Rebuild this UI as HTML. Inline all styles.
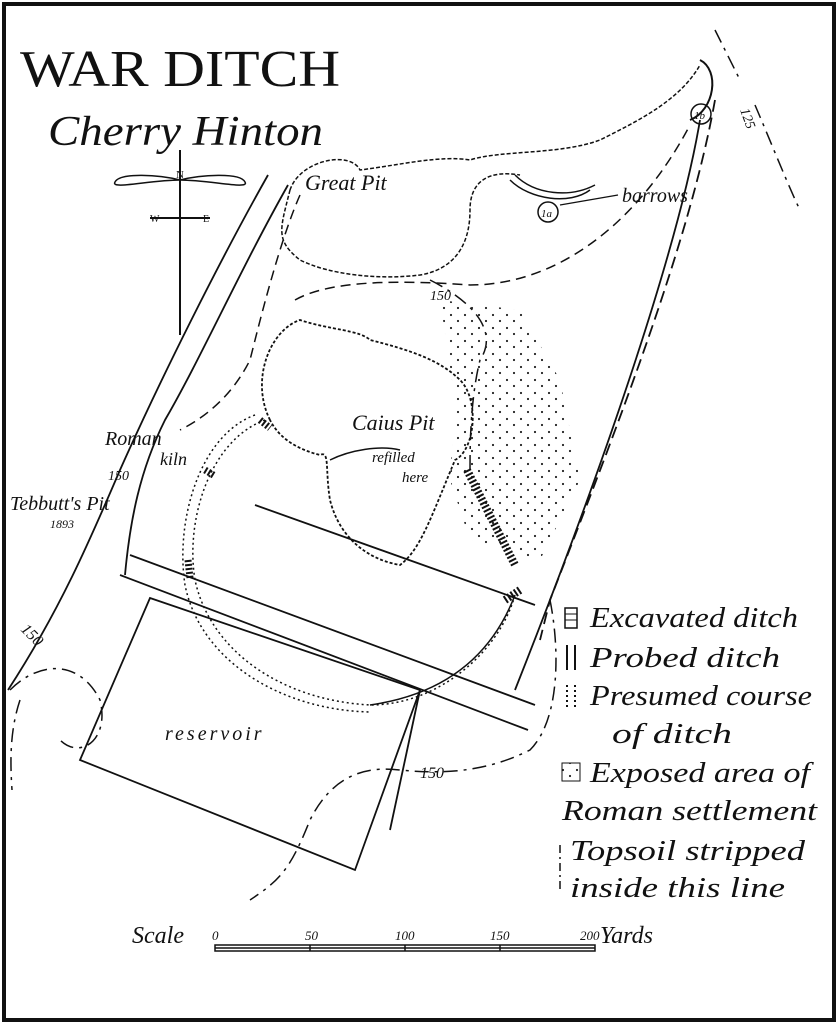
<!DOCTYPE html>
<html><head><meta charset="utf-8"><style>
html,body{margin:0;padding:0;background:#fff}
svg{display:block}
text{font-family:"Liberation Serif",serif;fill:#111}
.it{font-style:italic}
</style></head><body>
<svg width="838" height="1024" viewBox="0 0 838 1024" xmlns="http://www.w3.org/2000/svg">
<defs>
<pattern id="dots" width="14" height="13" patternUnits="userSpaceOnUse">
<circle cx="3" cy="3" r="1.1" fill="#222"/><circle cx="10" cy="9" r="1.1" fill="#222"/>
</pattern>
</defs>
<rect x="4" y="4" width="830" height="1016" fill="none" stroke="#111" stroke-width="4"/>
<text x="20" y="86" font-size="52" textLength="320" lengthAdjust="spacingAndGlyphs">WAR DITCH</text>
<text x="48" y="145" font-size="42" class="it" textLength="275" lengthAdjust="spacingAndGlyphs">Cherry Hinton</text>
<!-- compass -->
<path d="M180 150 L180 335 M150 218 L210 218" stroke="#111" stroke-width="2" fill="none"/>
<path d="M180 180 C150 180 110 190 115 182 C120 172 160 175 180 180 C200 175 240 172 245 182 C250 190 210 180 180 180" stroke="#111" stroke-width="1.5" fill="none"/>
<text x="176" y="178" font-size="11">N</text><text x="150" y="222" font-size="10">W</text><text x="203" y="222" font-size="10">E</text>
<!-- roads on left -->
<path d="M268 175 C220 260 160 380 120 470 C90 540 60 610 8 690" stroke="#111" stroke-width="1.8" fill="none"/>
<path d="M288 185 C240 270 200 360 165 420 C140 470 130 520 125 575" stroke="#111" stroke-width="1.8" fill="none"/>
<path d="M300 195 C280 240 260 320 250 360 C230 400 200 420 180 430" stroke="#111" stroke-width="1.5" stroke-dasharray="10,6" fill="none"/>
<!-- great pit -->
<path d="M290 190 C300 160 350 150 360 170 C400 165 440 155 470 160 C500 150 560 155 600 140 C640 120 680 100 700 65 M290 190 C280 230 275 240 300 260 C330 275 380 280 420 275 C450 270 470 250 470 210 C470 180 490 170 520 175" stroke="#111" stroke-width="1.5" fill="none" stroke-dasharray="4,2"/>
<path d="M700 60 C720 70 715 110 690 120" stroke="#111" stroke-width="2" fill="none"/>
<!-- right dashed boundary -->
<path d="M715 100 C690 240 620 420 550 600 L540 640" stroke="#111" stroke-width="1.8" stroke-dasharray="12,6" fill="none"/>
<path d="M700 120 C680 240 610 450 515 690" stroke="#111" stroke-width="1.8" fill="none"/>
<path d="M295 300 C330 280 400 280 470 285 C560 285 640 220 690 125" stroke="#111" stroke-width="1.5" stroke-dasharray="10,6" fill="none"/>
<path d="M715 30 L740 80 M755 105 C770 140 790 190 800 210" stroke="#111" stroke-width="1.5" stroke-dasharray="14,6,3,6" fill="none"/>
<!-- contour 150 dash-dot -->
<path d="M430 280 C470 300 500 330 480 360 C470 400 470 450 470 470" stroke="#111" stroke-width="1.5" stroke-dasharray="14,6,3,6" fill="none"/>
<path d="M550 600 C560 650 560 720 530 750 C490 770 450 775 400 770 C360 765 330 780 310 820 C290 870 280 880 250 900" stroke="#111" stroke-width="1.5" stroke-dasharray="14,6,3,6" fill="none"/>
<path d="M10 690 C40 660 80 660 100 700 C110 740 80 760 60 740 M20 700 C10 730 10 760 12 790" stroke="#111" stroke-width="1.5" stroke-dasharray="14,6,3,6" fill="none"/>
<!-- stipple -->
<path d="M440 300 L520 310 L560 380 L580 480 L540 560 L470 540 L450 480 L455 400 Z" fill="url(#dots)"/>
<!-- Caius pit -->
<path d="M270 420 C250 380 270 330 300 320 C330 330 360 330 370 340 C410 350 440 360 460 380 C480 400 475 450 455 460 C430 520 420 550 400 565 C370 560 340 540 330 500 C325 470 330 450 320 455 C300 450 280 440 270 420 Z" fill="none" stroke="#111" stroke-width="1.8" stroke-dasharray="3,2"/>
<path d="M330 460 C350 450 380 445 400 450" stroke="#111" stroke-width="1.5" fill="none"/>
<!-- strips -->
<path d="M120 575 L528 730 M130 555 L535 705 M255 505 L535 605" stroke="#111" stroke-width="1.8" fill="none"/>
<path d="M150 598 L420 690 L355 870 L80 760 Z" fill="none" stroke="#111" stroke-width="1.8"/>
<path d="M420 690 L390 830" stroke="#111" stroke-width="1.8" fill="none"/>
<!-- ring ditch -->
<path d="M265 420 C210 440 185 520 195 580 C210 650 280 700 370 705 C440 705 500 650 515 595" stroke="#111" stroke-width="1.5" stroke-dasharray="2,3" fill="none"/>
<path d="M255 415 C200 435 175 520 185 585 C200 660 280 710 370 712" stroke="#111" stroke-width="1.5" stroke-dasharray="2,3" fill="none"/>
<path d="M515 595 C490 660 440 695 370 705" stroke="#111" stroke-width="1.5" fill="none"/>
<path d="M467 470 L515 565" stroke="#111" stroke-width="8" stroke-dasharray="2,2"/>
<path d="M505 600 L520 590" stroke="#111" stroke-width="8" stroke-dasharray="2,2"/>
<path d="M260 420 L270 428 M205 470 L215 476 M188 560 L190 578" stroke="#111" stroke-width="7" stroke-dasharray="2,2"/>
<!-- barrows -->
<path d="M510 180 C530 200 570 205 590 190 M515 175 C535 195 570 198 595 185" stroke="#111" stroke-width="1.5" fill="none"/>
<circle cx="548" cy="212" r="10" fill="none" stroke="#111" stroke-width="1.5"/><text x="541" y="217" font-size="11" class="it">1a</text>
<circle cx="701" cy="114" r="10" fill="none" stroke="#111" stroke-width="1.5"/><text x="694" y="119" font-size="11" class="it">1b</text>
<path d="M560 205 L618 195" stroke="#111" stroke-width="1.2"/>
<text x="622" y="202" font-size="20" class="it">barrows</text>
<text x="305" y="190" font-size="22" class="it">Great  Pit</text>
<text x="352" y="430" font-size="22" class="it">Caius Pit</text>
<text x="372" y="462" font-size="15" class="it">refilled</text>
<text x="402" y="482" font-size="15" class="it">here</text>
<text x="105" y="445" font-size="20" class="it">Roman</text>
<text x="160" y="465" font-size="18" class="it">kiln</text>
<text x="108" y="480" font-size="14" class="it">150</text>
<text x="10" y="510" font-size="20" class="it">Tebbutt's Pit</text>
<text x="50" y="528" font-size="12" class="it">1893</text>
<text x="20" y="630" font-size="16" class="it" transform="rotate(45 20 630)">150</text>
<text x="420" y="778" font-size="16" class="it">150</text>
<text x="430" y="300" font-size="14" class="it">150</text>
<text x="740" y="110" font-size="14" class="it" transform="rotate(70 740 110)">125</text>
<text x="165" y="740" font-size="20" class="it" letter-spacing="3">reservoir</text>
<!-- legend -->
<g font-size="29" class="it">
<text x="590" y="627" textLength="208" lengthAdjust="spacingAndGlyphs">Excavated ditch</text>
<text x="590" y="667" textLength="190" lengthAdjust="spacingAndGlyphs">Probed  ditch</text>
<text x="590" y="705" textLength="222" lengthAdjust="spacingAndGlyphs">Presumed course</text>
<text x="612" y="743" textLength="120" lengthAdjust="spacingAndGlyphs">of ditch</text>
<text x="590" y="782" textLength="220" lengthAdjust="spacingAndGlyphs">Exposed area of</text>
<text x="562" y="820" textLength="255" lengthAdjust="spacingAndGlyphs">Roman settlement</text>
<text x="570" y="860" textLength="235" lengthAdjust="spacingAndGlyphs">Topsoil stripped</text>
<text x="570" y="897" textLength="215" lengthAdjust="spacingAndGlyphs">inside this line</text>
</g>
<rect x="565" y="608" width="12" height="20" fill="none" stroke="#111" stroke-width="1.5"/>
<path d="M565 614h12M565 620h12" stroke="#111"/>
<path d="M567 645v25M575 645v25" stroke="#111" stroke-width="2"/>
<path d="M567 685v25M575 685v25" stroke="#111" stroke-width="2" stroke-dasharray="2,3"/>
<rect x="562" y="763" width="18" height="18" fill="url(#dots)" stroke="#111"/>
<path d="M560 845v45" stroke="#111" stroke-width="1.5" stroke-dasharray="8,4,2,4"/>
<!-- scale -->
<text x="132" y="943" font-size="24" class="it">Scale</text>
<text x="212" y="940" font-size="13" class="it">0</text>
<text x="305" y="940" font-size="13" class="it">50</text>
<text x="395" y="940" font-size="13" class="it">100</text>
<text x="490" y="940" font-size="13" class="it">150</text>
<text x="580" y="940" font-size="13" class="it">200</text>
<text x="600" y="943" font-size="24" class="it">Yards</text>
<rect x="215" y="945" width="380" height="6" fill="none" stroke="#111" stroke-width="1.5"/>
<path d="M215 948H595M310 945v6M405 945v6M500 945v6" stroke="#111" stroke-width="1.5"/>
</svg>
</body></html>
